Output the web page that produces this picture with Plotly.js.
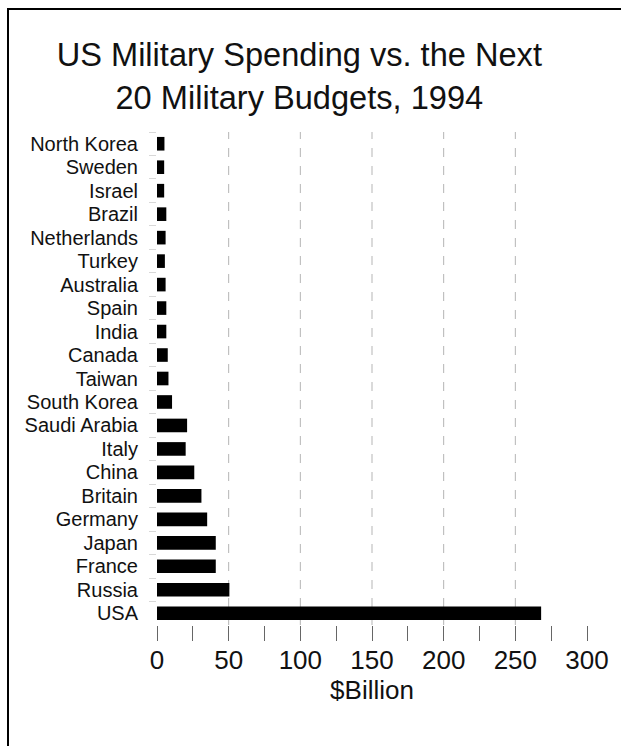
<!DOCTYPE html>
<html>
<head>
<meta charset="utf-8">
<script src="https://cdn.plot.ly/plotly-3.0.1.min.js"></script>
<style>
  html, body { margin: 0; padding: 0; background: #fff; }
  #wrap { position: relative; width: 621px; height: 746px; overflow: hidden; }
  #chart { width: 621px; height: 746px; }
  #frame { position: absolute; left: 7px; top: 8px; width: 800px; height: 900px;
           border-left: 2px solid #000; border-top: 2px solid #000; pointer-events: none; }
</style>
</head>
<body>
<div id="wrap">
  <div id="chart"></div>
  <div id="frame"></div>
</div>
<script>
// Countries listed top to bottom as in the chart
const countries = ["North Korea", "Sweden", "Israel", "Brazil", "Netherlands", "Turkey",
  "Australia", "Spain", "India", "Canada", "Taiwan", "South Korea", "Saudi Arabia",
  "Italy", "China", "Britain", "Germany", "Japan", "France", "Russia", "USA"];
// Military budgets, $ billion
const budgets = [5.2, 5, 5, 6.5, 6, 5.5, 6, 6.5, 6.5, 7.5, 8, 10.5, 21,
  20, 26, 31, 35, 41, 41, 50.5, 268];
const xTickVals = [0, 50, 100, 150, 200, 250, 300];
const gridVals = [50, 100, 150, 200, 250];

const titleText = "US Military Spending vs. the Next<br>20 Military Budgets, 1994";
const font = "Liberation Sans, Arial, Helvetica, sans-serif";

const trace = {
  type: "bar",
  orientation: "h",
  x: budgets,
  y: countries,
  marker: { color: "#000000", line: { width: 0 } },
  hoverinfo: "x+y"
};

const shapes = gridVals.map(v => ({
  type: "line", xref: "x", yref: "paper",
  x0: v, x1: v, y0: 0, y1: 1,
  line: { color: "#b5b5b5", width: 1, dash: "dash" },
  layer: "below"
}));

const layout = {
  width: 621, height: 746,
  margin: { l: 157, r: 34, t: 132, b: 121, pad: 0 },
  paper_bgcolor: "#ffffff",
  plot_bgcolor: "#ffffff",
  showlegend: false,
  bargap: 0.42,
  font: { family: font, color: "#111" },
  title: {
    text: titleText,
    font: { family: font, size: 32.6, color: "#111" },
    x: 0.482, xref: "container", xanchor: "center",
    y: 0.911, yref: "container", yanchor: "top"
  },
  xaxis: {
    range: [0, 300],
    tickvals: xTickVals,
    ticktext: xTickVals.map(String),
    ticks: "outside", ticklen: 15, tickwidth: 1, tickcolor: "#666",
    minor: { dtick: 25, tick0: 0, ticks: "outside", ticklen: 15, tickwidth: 1, tickcolor: "#666", showgrid: false },
    showgrid: false, zeroline: false, showline: false,
    tickfont: { family: font, size: 26, color: "#111" },
    ticklabelstandoff: -3,
    title: { text: "$Billion", font: { family: font, size: 26, color: "#111" }, standoff: 0 }
  },
  yaxis: {
    type: "category",
    autorange: "reversed",
    tickmode: "linear", tick0: 0, dtick: 1,
    ticks: "outside", ticklen: 7, tickcolor: "#d8d8d8", tickson: "boundaries",
    showgrid: false, zeroline: false, showline: false,
    tickfont: { family: font, size: 20, color: "#111" },
    ticklabelstandoff: 18
  },
  shapes: shapes
};

Plotly.newPlot("chart", [trace], layout, { displayModeBar: false, staticPlot: true });
</script>
</body>
</html>
